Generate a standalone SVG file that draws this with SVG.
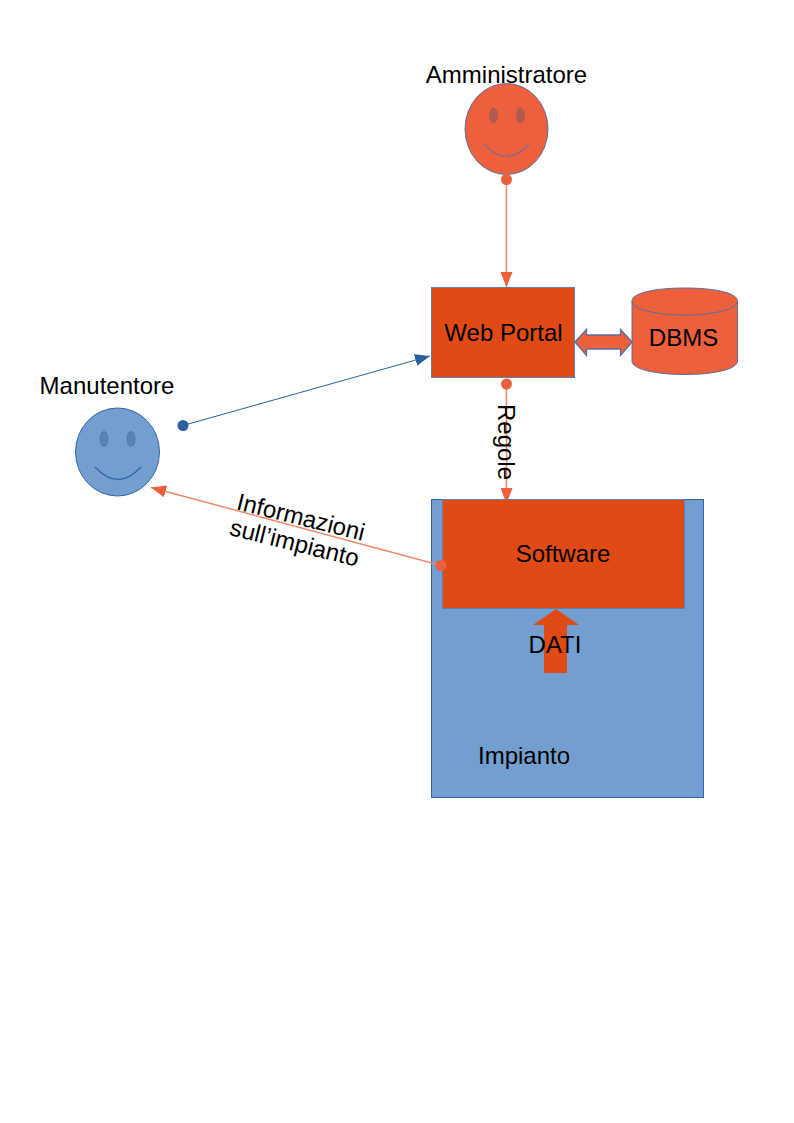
<svg xmlns="http://www.w3.org/2000/svg" width="794" height="1123" viewBox="0 0 794 1123">
<style>
text{font-family:"Liberation Sans",Arial,sans-serif;font-size:24px;fill:#000}
.m{text-anchor:middle}
.o{fill:#ee5f3c;stroke:#5b6f9f;stroke-width:1}
.d{fill:#e04a14;stroke:#5f7fb5;stroke-width:1}
.b{fill:#729fcf;stroke:#3465a4;stroke-width:1}
.oe{fill:#b05a50;stroke:#a0604f;stroke-width:.8}
.os{fill:none;stroke:#8a6a80;stroke-width:1.4}
.be{fill:#5a82b2;stroke:#4c75a8;stroke-width:.8}
.bs{fill:none;stroke:#3465a4;stroke-width:1.3}
.co{stroke:#f2876c;stroke-width:1.5;fill:none}
.cb{stroke:#2a609f;stroke-width:1;fill:none}
</style>
<defs>
<marker id="ao" markerUnits="userSpaceOnUse" markerWidth="16" markerHeight="12" refX="15" refY="6" orient="auto"><path d="M0 0L15 6L0 12Z" fill="#ee5f3c"/></marker>
<marker id="aot" markerUnits="userSpaceOnUse" markerWidth="16" markerHeight="12" refX="11" refY="6" orient="auto"><path d="M0 0L11 4.200V7.800L0 12Z" fill="#ee5f3c"/></marker>
<marker id="ab" markerUnits="userSpaceOnUse" markerWidth="16" markerHeight="12" refX="15" refY="6" orient="auto"><path d="M0 0L15 6L0 12Z" fill="#2a609f"/></marker>
</defs>
<g id="impianto"><rect class="b" x="431.500" y="499.500" width="272" height="298"/><text x="478" y="764">Impianto</text></g>
<g id="software"><rect class="d" x="442.500" y="499.500" width="242" height="109"/><text class="m" x="563" y="562">Software</text></g>
<g id="dati"><path d="M556 609L579 625H567V673H544V625H533Z" fill="#e04a14"/><text class="m" x="555" y="653">DATI</text></g>
<g id="web-portal"><rect class="d" x="431.500" y="287.500" width="143" height="90"/><text class="m" x="503.500" y="341">Web Portal</text></g>
<g id="dbms"><path class="o" d="M632 301V361C632 369 655 374.500 685 374.500S737.500 369 737.500 361V301C737.500 293 715 288 685 288S632 293 632 301Z"/><path class="os" style="stroke:#5b6f9f;stroke-width:1" d="M632 301C632 309 655 315 685 315S737.500 309 737.500 301"/><text class="m" x="683.500" y="346">DBMS</text></g>
<g id="amministratore"><ellipse class="o" cx="506.500" cy="129" rx="41.500" ry="45.500"/><ellipse class="oe" cx="493.500" cy="115.500" rx="4" ry="7.500"/><ellipse class="oe" cx="520.500" cy="115.500" rx="4" ry="7.500"/><path class="os" d="M484 144Q506 169 529 144"/><text class="m" x="506.500" y="83">Amministratore</text></g>
<g id="manutentore"><ellipse class="b" cx="117.500" cy="452" rx="42" ry="44"/><ellipse class="be" cx="104" cy="439" rx="4" ry="7.500"/><ellipse class="be" cx="131" cy="439" rx="4" ry="7.500"/><path class="bs" d="M95 467Q118 492 141 467"/><text class="m" x="107" y="394">Manutentore</text></g>
<g id="connectors">
<path class="co" d="M506.500 180V287" marker-end="url(#ao)"/><circle cx="506.500" cy="179.500" r="5.500" fill="#ee5f3c"/>
<path class="co" d="M506.500 384V499" marker-end="url(#aot)"/><circle cx="506.500" cy="384" r="5.500" fill="#ee5f3c"/>
<path class="cb" d="M183 425.500L430 356" marker-end="url(#ab)"/><circle cx="183" cy="425.500" r="5.500" fill="#2a609f"/>
<path class="co" d="M441 565.500L151 487.500" marker-end="url(#ao)"/><circle cx="441" cy="565.500" r="5.500" fill="#ee5f3c"/>
<path class="o" style="stroke-width:1.3" d="M575 342L586.500 329.500V335H620.500V329.500L632 342L620.500 355.500V349H586.500V355.500Z"/>
</g>
<g id="labels">
<text class="m" transform="translate(498 442) rotate(90)">Regole</text>
<g transform="translate(299 525) rotate(14)"><text class="m" x="0" y="0">Informazioni</text><text class="m" x="0" y="26.500">sull’impianto</text></g>
</g>
</svg>
